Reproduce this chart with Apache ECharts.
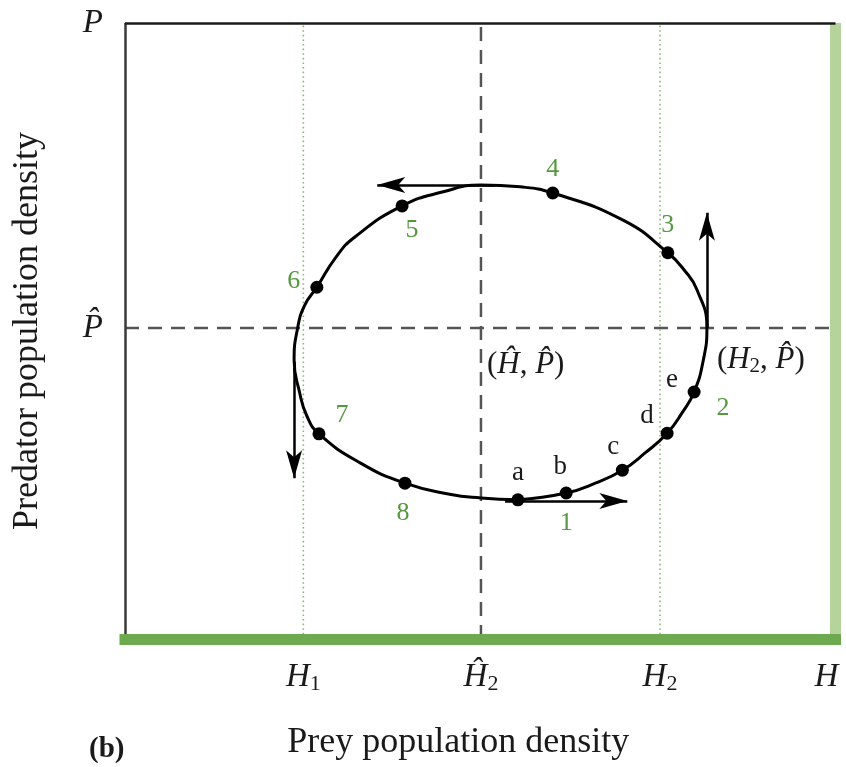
<!DOCTYPE html>
<html><head><meta charset="utf-8">
<script src="https://cdn.jsdelivr.net/npm/echarts@6/dist/echarts.min.js"></script>
<style>html,body{margin:0;padding:0;background:#fff}#c{width:846px;height:767px}</style>
</head><body><div id="c"></div>
<script>
// ---- axis extents (relative density units) ----
const H_MAX = 100;
const P_MAX = 100;

// ---- reference values ----
const H1 = 25.1;
const H_HAT = 50.1;
const H2 = 75.3;
const P_HAT = 50.5;

// ---- tick labels ----
const xTickValues = [H1, H_HAT, H2, H_MAX];
const xTickLabels = ['{i|H}{s|1}', '{i|Ĥ}{s|2}', '{i|H}{s|2}', '{e|H}'];
const yTickValues = [P_HAT, P_MAX];
const yTickLabels = ['{i|P\u0302}', '{i|P}'];

// ---- predator-prey cycle (closed loop, counter-clockwise) ----
const cycleH = [55.3, 62.1, 66.2, 70.0, 73.2, 76.3, 78.4, 80.1, 81.4, 81.9, 80.5, 78.7, 76.4, 70.1, 60.2, 55.6, 50.1, 44.8, 39.0, 32.4, 29.7, 27.0, 25.3, 24.3, 23.8, 24.6, 25.6, 27.3, 33.1, 39.4, 45.7, 50.1, 55.3];
const cycleP = [22.6, 23.7, 25.3, 27.4, 30.2, 33.4, 36.7, 40.1, 45.3, 50.5, 56.7, 59.9, 62.7, 68.0, 72.4, 73.4, 73.7, 72.6, 70.3, 65.3, 62.0, 57.1, 54.2, 50.5, 45.3, 39.9, 36.2, 33.3, 28.6, 25.3, 23.5, 22.9, 22.6];

// ---- marked points on the cycle ----
const pointH = [55.3, 62.1, 70.0, 76.3, 80.1, 76.4, 60.2, 39.0, 27.0, 27.3, 39.4];
const pointP = [22.6, 23.7, 27.4, 33.4, 40.1, 62.7, 72.4, 70.3, 57.1, 33.3, 25.3];
const letterLabels = ['a', 'b', 'c', 'd', 'e', '', '', '', '', '', ''];
const stageLabels = ['', '1', '', '', '2', '3', '4', '5', '6', '7', '8'];

// ---- direction arrows (start -> tip) ----
const arrowStartH = [53.5, 81.9, 52.0, 23.8];
const arrowStartP = [22.4, 50.5, 73.7, 45.0];
const arrowEndH = [70.7, 81.9, 35.5, 23.8];
const arrowEndP = [22.4, 69.2, 73.7, 26.1];

// ---- equilibrium annotations ----
const eqNames = ['{n|(}{i|Ĥ}{n|, }{i|P\u0302}{n|)}', '{n|(}{i|H}{s|2}{n|, }{i|P\u0302}{n|)}'];
const eqH = [H_HAT, 81.9];
const eqP = [P_HAT, P_HAT];

// ================= styling =================
const SERIF = 'Liberation Serif';
const INK = '#1a1a1a';
const GREEN_TXT = '#55983f';
const labelOffsets = {
  a: [0, -27], b: [-6, -26], c: [-9, -23], d: [-20, -17], e: [-22, -12],
  '1': [0, 30], '2': [29, 16], '3': [0, -28], '4': [0, -24], '5': [10, 24],
  '6': [-23, -6], '7': [23, -19], '8': [-2, 30]
};
const eqOffsets = [[6, 37], [10, 32]];

const tickRich = {
  i: {fontFamily: SERIF, fontStyle: 'italic', fontSize: 33, color: INK, lineHeight: 36},
  e: {fontFamily: SERIF, fontStyle: 'italic', fontSize: 33, color: INK, lineHeight: 36, padding: [0, 18, 0, 0]},
  s: {fontFamily: SERIF, fontSize: 22, color: INK, lineHeight: 22, verticalAlign: 'bottom'}
};
const eqRich = {
  i: {fontFamily: SERIF, fontStyle: 'italic', fontSize: 31, color: INK, lineHeight: 34},
  n: {fontFamily: SERIF, fontSize: 31, color: INK, lineHeight: 34},
  s: {fontFamily: SERIF, fontSize: 21, color: INK, lineHeight: 21, verticalAlign: 'bottom'}
};

const pts = (hs, ps) => hs.map((h, i) => [h, ps[i]]);

const chart = echarts.init(document.getElementById('c'), null, {renderer: 'canvas'});

const baseX = {type: 'value', min: 0, max: H_MAX, splitLine: {show: false}, axisTick: {show: false}, z: 10};
const baseY = {type: 'value', min: 0, max: P_MAX, splitLine: {show: false}, axisTick: {show: false}, z: 10};

const option = {
  animation: false,
  backgroundColor: '#fff',
  title: {
    text: '(b)', left: 84, top: 730,
    textStyle: {fontFamily: SERIF, fontWeight: 'bold', fontSize: 29, color: INK}
  },
  grid: {left: 125, right: 10.5, top: 23, bottom: 128, containLabel: false, outerBoundsMode: 'none'},
  xAxis: [
    Object.assign({}, baseX, {
      position: 'bottom',
      axisLine: {show: true, onZero: false, lineStyle: {color: '#6ca94f', width: 11, cap: 'square'}},
      axisLabel: {
        customValues: xTickValues, margin: 20, rich: tickRich,
        formatter: v => xTickLabels[xTickValues.indexOf(v)] || ''
      },
      name: 'Prey population density', nameLocation: 'middle', nameGap: 86,
      nameTextStyle: {fontFamily: SERIF, fontSize: 36, color: INK, padding: [0, 44, 0, 0]}
    }),
    Object.assign({}, baseX, {
      position: 'top',
      axisLine: {show: true, onZero: false, lineStyle: {color: INK, width: 2.5, cap: 'butt'}},
      axisLabel: {show: false}
    })
  ],
  yAxis: [
    Object.assign({}, baseY, {
      position: 'left',
      axisLine: {show: true, onZero: false, lineStyle: {color: '#3a3a3a', width: 2.5, cap: 'butt'}},
      axisLabel: {
        customValues: yTickValues, margin: 22, rich: tickRich,
        formatter: v => yTickLabels[yTickValues.indexOf(v)] || ''
      },
      name: 'Predator population density', nameLocation: 'middle', nameGap: 79,
      nameTextStyle: {fontFamily: SERIF, fontSize: 36, color: INK}
    }),
    Object.assign({}, baseY, {
      position: 'right',
      axisLine: {show: true, onZero: false, lineStyle: {color: '#b5d49c', width: 11, cap: 'butt'}},
      axisLabel: {show: false}
    })
  ],
  series: [
    // guide lines
    {type: 'line', data: [[H_HAT, 0], [H_HAT, P_MAX]], symbol: 'none', silent: true,
     lineStyle: {color: '#555', width: 2.5, type: [14, 9]}, z: 1},
    {type: 'line', data: [[0, P_HAT], [H_MAX, P_HAT]], symbol: 'none', silent: true,
     lineStyle: {color: '#555', width: 2.5, type: [14, 9]}, z: 1},
    {type: 'line', data: [[H1, 0], [H1, P_MAX]], symbol: 'none', silent: true,
     lineStyle: {color: '#8db87a', width: 1.6, type: [1.6, 3]}, z: 1},
    {type: 'line', data: [[H2, 0], [H2, P_MAX]], symbol: 'none', silent: true,
     lineStyle: {color: '#8db87a', width: 1.6, type: [1.6, 3]}, z: 1},
    // the cycle
    {type: 'line', data: pts(cycleH, cycleP), symbol: 'none', smooth: 0.5, silent: true,
     lineStyle: {color: '#000', width: 3}, z: 3},
    // arrows
    {type: 'lines', coordinateSystem: 'cartesian2d', silent: true, z: 4,
     symbol: ['none', 'arrow'], symbolSize: [1, [12, 28]],
     lineStyle: {color: '#000', width: 2.5, opacity: 1, curveness: 0},
     data: arrowStartH.map((h, i) => ({coords: [[h, arrowStartP[i]], [arrowEndH[i], arrowEndP[i]]]}))},
    // dots with letter labels
    {type: 'scatter', symbol: 'circle', symbolSize: 13, silent: true, z: 5,
     itemStyle: {color: '#000', opacity: 1},
     data: pointH.map((h, i) => ({
       value: [h, pointP[i]],
       label: {show: !!letterLabels[i], formatter: letterLabels[i], position: 'inside',
         offset: labelOffsets[letterLabels[i]] || [0, 0],
         fontFamily: SERIF, fontSize: 27, color: INK}
     }))},
    // stage number labels
    {type: 'scatter', symbolSize: 0, silent: true, z: 6,
     itemStyle: {opacity: 1},
     data: pointH.map((h, i) => ({
       value: [h, pointP[i]],
       label: {show: !!stageLabels[i], formatter: stageLabels[i], position: 'inside',
         offset: labelOffsets[stageLabels[i]] || [0, 0],
         fontFamily: SERIF, fontSize: 26, color: GREEN_TXT}
     }))},
    // equilibrium annotations
    {type: 'scatter', symbolSize: 0, silent: true, z: 6,
     itemStyle: {opacity: 1},
     data: eqH.map((h, i) => ({
       value: [h, eqP[i]],
       label: {show: true, formatter: eqNames[i], position: 'right', distance: 0,
         offset: eqOffsets[i], rich: eqRich, align: 'left'}
     }))}
  ]
};
chart.setOption(option);
</script>
</body></html>
